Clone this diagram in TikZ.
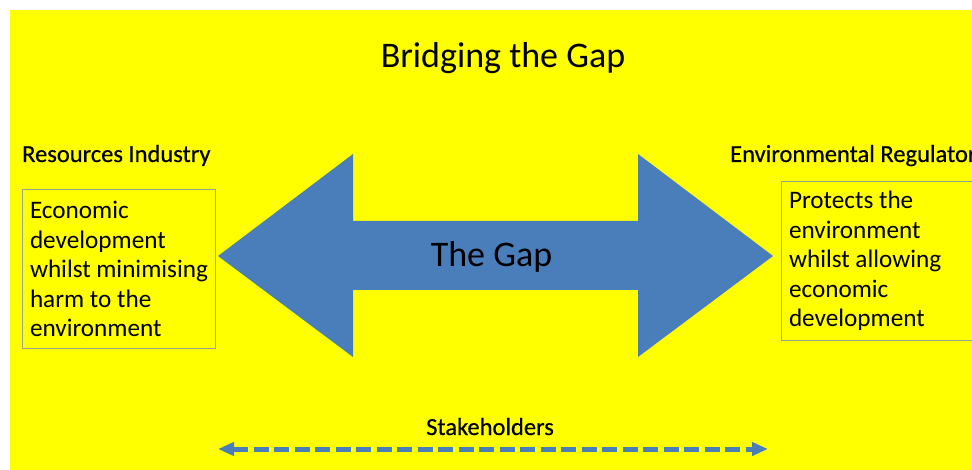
\documentclass[tikz,border=0pt]{standalone}
\usepackage{fontspec}
\setmainfont{Carlito}
\usetikzlibrary{arrows.meta}

\definecolor{slide}{RGB}{255,255,0}
\definecolor{gapblue}{RGB}{74,126,187}
\definecolor{boxline}{RGB}{150,165,140}

\tikzset{
	heading/.style={font=\fontsize{36}{43}\selectfont, inner sep=0pt, anchor=base},
	party/.style={font=\fontsize{24.5}{29}\selectfont\addfontfeature{FakeBold=0.5}, inner sep=0pt, anchor=base west},
	rolebox/.style={draw=boxline, line width=1pt, fill=slide, align=flush left, text width=178pt,
		inner xsep=7.5pt, inner ysep=0pt, minimum height=159pt,
		font=\fontsize{25.2}{29.5}\selectfont},
}

\begin{document}
\begin{tikzpicture}[x=1pt, y=-1pt]
	\useasboundingbox (0,0) rectangle (972,470);
	\clip (0,0) rectangle (972,470);
	\fill[slide] (10,10) rectangle (972,470);

	\node[heading] (title) at (503,68) {Bridging the Gap};

	% the two parties and what they each want
	\node[party] (industry) at (22,162) {Resources Industry};
	\node[party] (regulator) at (730,162) {Environmental Regulator};
	\node[rolebox, anchor=north west] (industrybox) at (22,189) {Economic\\ development\\ whilst minimising\\ harm to the\\ environment};
	\node[rolebox, anchor=north west] (regulatorbox) at (781,181) {Protects the\\ environment\\ whilst allowing\\ economic\\ development};

	% big double arrow between them
	\coordinate (ltip) at (218,256);
	\coordinate (rtip) at (773,256);
	\fill[gapblue] (ltip) -- (353,154) -- (353,221) -- (638,221) -- (638,154) -- (rtip)
		-- (638,357) -- (638,290) -- (353,290) -- (353,357) -- cycle;
	\node[heading] (gap) at (491.5,267) {The Gap};

	% stakeholders line
	\node[font=\fontsize{24.5}{29}\selectfont\addfontfeature{FakeBold=0.5}, inner sep=0pt, anchor=base] (stake) at (490,435) {Stakeholders};
	\coordinate (sl) at (218,449);
	\coordinate (sr) at (768,449);
	\draw[gapblue, line width=5pt, dash pattern=on 15pt off 5.5pt,
		arrows={Triangle[length=16pt,width=13pt]-Triangle[length=16pt,width=13pt]}] (sl) -- (sr);
\end{tikzpicture}
\end{document}
